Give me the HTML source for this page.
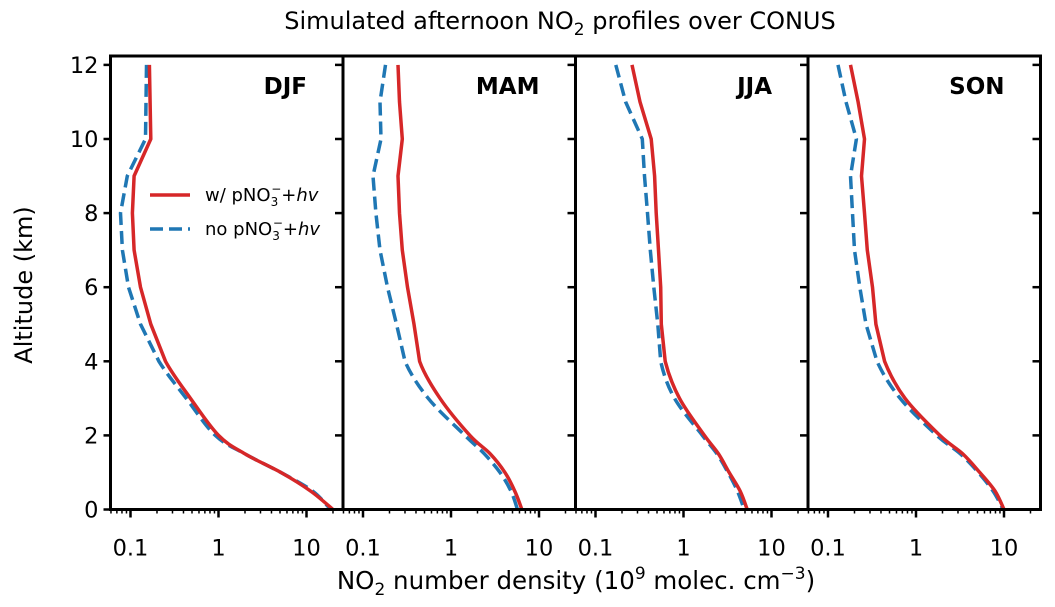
<!DOCTYPE html>
<html><head><meta charset="utf-8"><style>
body{margin:0;background:#fff;}
svg{display:block;font-family:"DejaVu Sans","Liberation Sans",sans-serif;}
</style></head><body>
<svg id="chart" width="1055" height="607" viewBox="0 0 1055 607" xmlns="http://www.w3.org/2000/svg">
<text x="560" y="29" font-size="24" text-anchor="middle">Simulated afternoon NO<tspan font-size="17" dy="6">2</tspan><tspan dy="-6"> profiles over CONUS</tspan></text>
<text transform="translate(32,285) rotate(-90)" font-size="24" text-anchor="middle">Altitude (km)</text>
<text x="576" y="589" font-size="24.5" text-anchor="middle">NO<tspan font-size="17" dy="6">2</tspan><tspan dy="-6"> number density (10</tspan><tspan font-size="17" dy="-10">9</tspan><tspan dy="10"> molec. cm</tspan><tspan font-size="17" dy="-10">−3</tspan><tspan dy="10">)</tspan></text>
<g id="panels"></g>
<g>
<line x1="150" y1="195" x2="190" y2="195" stroke="#d62728" stroke-width="3.5"/>
<text x="205" y="201" font-size="18">w/ pNO<tspan font-size="12" dy="5">3</tspan><tspan font-size="12" dx="-7" dy="-13">−</tspan><tspan dy="8">+</tspan><tspan font-style="italic">hv</tspan></text>
<line x1="150" y1="229" x2="190" y2="229" stroke="#1f77b4" stroke-width="3.5" stroke-dasharray="13,6"/>
<text x="205" y="235" font-size="18">no pNO<tspan font-size="12" dy="5">3</tspan><tspan font-size="12" dx="-7" dy="-13">−</tspan><tspan dy="8">+</tspan><tspan font-style="italic">hv</tspan></text>
</g>
</svg>
<script>
const seasons = ["DJF","MAM","JJA","SON"];
const altDJF = [12,10,9,8,7,6,5,4,3,2,1.5,1,0.5,0];
const redDJF = [0.164,0.17,0.11,0.105,0.11,0.13,0.17,0.25,0.48,1.0,2.0,5.1,11.1,20];
const blueDJF = [0.152,0.148,0.092,0.077,0.081,0.095,0.13,0.21,0.43,0.92,2.0,5.1,11.7,18.8];
const altStd = [12,11,10,9,8,7,6,5,4,3,2,1.5,1,0.5,0];
const redMAM = [0.25,0.26,0.28,0.25,0.26,0.28,0.32,0.38,0.44,0.75,1.64,2.8,4.1,5.3,6.4];
const blueMAM = [0.18,0.156,0.16,0.13,0.14,0.156,0.19,0.24,0.30,0.55,1.44,2.4,3.6,4.8,5.7];
const redJJA = [0.26,0.32,0.43,0.47,0.49,0.52,0.55,0.56,0.62,0.9,1.73,2.5,3.3,4.4,5.3];
const blueJJA = [0.17,0.22,0.34,0.36,0.39,0.42,0.46,0.51,0.55,0.79,1.64,2.4,3.2,4.1,4.9];
const redSON = [0.18,0.22,0.26,0.24,0.26,0.28,0.32,0.35,0.44,0.75,1.87,3.4,5.3,7.9,10];
const blueSON = [0.13,0.16,0.21,0.18,0.19,0.2,0.23,0.27,0.36,0.66,1.73,3.2,5.1,7.5,9.8];
const yTicks = [0,2,4,6,8,10,12];
const xTickLabels = ["0.1","1","10"];
const xTickVals = [0.1,1,10];

const NS="http://www.w3.org/2000/svg";
const g=document.getElementById('panels');
const panelX=[110.5,343,575.5,808], PW=232.5, TOP=56, BOT=509.5;
const yS=a=>BOT-a*(BOT-TOP)/12.24;
const xS=(p,v)=>panelX[p]+20+(Math.log10(v)+1)*88;
function mk(tag,attrs){const e=document.createElementNS(NS,tag);for(const k in attrs)e.setAttribute(k,attrs[k]);return e;}
function pathFrom(P,alt){
  let d='M'+P[0][0].toFixed(1)+','+P[0][1].toFixed(1);
  for(let i=0;i<P.length-1;i++){
    if(alt[i+1]>=4){d+=' L'+P[i+1][0].toFixed(1)+','+P[i+1][1].toFixed(1);continue;}
    const p0=P[Math.max(i-1,0)],p1=P[i],p2=P[i+1],p3=P[Math.min(i+2,P.length-1)];
    const c1=[p1[0]+(p2[0]-p0[0])/6,p1[1]+(p2[1]-p0[1])/6];
    const c2=[p2[0]-(p3[0]-p1[0])/6,p2[1]-(p3[1]-p1[1])/6];
    d+=' C'+c1.map(v=>v.toFixed(1)).join(',')+' '+c2.map(v=>v.toFixed(1)).join(',')+' '+p2.map(v=>v.toFixed(1)).join(',');
  }
  return d;
}
const alts=[altDJF,altStd,altStd,altStd];
const reds=[redDJF,redMAM,redJJA,redSON];
const blues=[blueDJF,blueMAM,blueJJA,blueSON];
seasons.forEach((s,p)=>{
  const x0=panelX[p];
  const pg=mk('g',{});
  
  
  g.appendChild(pg);
  const cp=mk('clipPath',{id:'cp'+p});cp.appendChild(mk('rect',{x:x0,y:TOP,width:PW,height:BOT-TOP}));pg.appendChild(cp);
  const mkLine=(vals,col,dash,name)=>{
    const P=vals.map((v,i)=>[xS(p,v),yS(alts[p][i])]);
    const l=mk('path',{d:pathFrom(P,alts[p]),fill:'none',stroke:col,'stroke-width':3.5,'stroke-linejoin':'round','clip-path':'url(#cp'+p+')'});
    if(dash)l.setAttribute('stroke-dasharray','13,6');
    
    
    pg.appendChild(l);
  };
  mkLine(blues[p],'#1f77b4',true,'no-pno3-line-'+s.toLowerCase());
  mkLine(reds[p],'#d62728',false,'with-pno3-line-'+s.toLowerCase());
  yTicks.forEach(t=>{
    pg.appendChild(mk('line',{x1:x0+PW-8,x2:x0+PW,y1:yS(t),y2:yS(t),stroke:'#000','stroke-width':2.5}));
    if(p===0){
      pg.appendChild(mk('line',{x1:x0-7,x2:x0,y1:yS(t),y2:yS(t),stroke:'#000','stroke-width':2.5}));
      const tl=mk('text',{x:x0-12,y:yS(t)+8,'font-size':22.5,'text-anchor':'end'});tl.textContent=t;
      
      
      pg.appendChild(tl);
    }
  });
  for(let d=-2;d<=1;d++)for(let m=1;m<10;m++){
    const v=m*Math.pow(10,d);const x=xS(p,v);
    if(x<x0||x>x0+PW)continue;
    pg.appendChild(mk('line',{x1:x,x2:x,y1:BOT,y2:BOT+(m===1?8:4),stroke:'#000','stroke-width':m===1?2.5:1.5}));
  }
  xTickVals.forEach((v,i)=>{
    const tl=mk('text',{x:xS(p,v),y:BOT+46,'font-size':22.5,'text-anchor':'middle'});tl.textContent=xTickLabels[i];
    
    
    pg.appendChild(tl);
  });
  const fr=mk('rect',{x:x0,y:TOP,width:PW,height:BOT-TOP,fill:'none',stroke:'#000','stroke-width':3});
  
  
  pg.appendChild(fr);
  const lab=mk('text',{x:x0+PW-36,y:94,'font-size':23,'font-weight':'bold','text-anchor':'end'});lab.textContent=s;
  
  
  pg.appendChild(lab);
});
</script>
</body></html>
